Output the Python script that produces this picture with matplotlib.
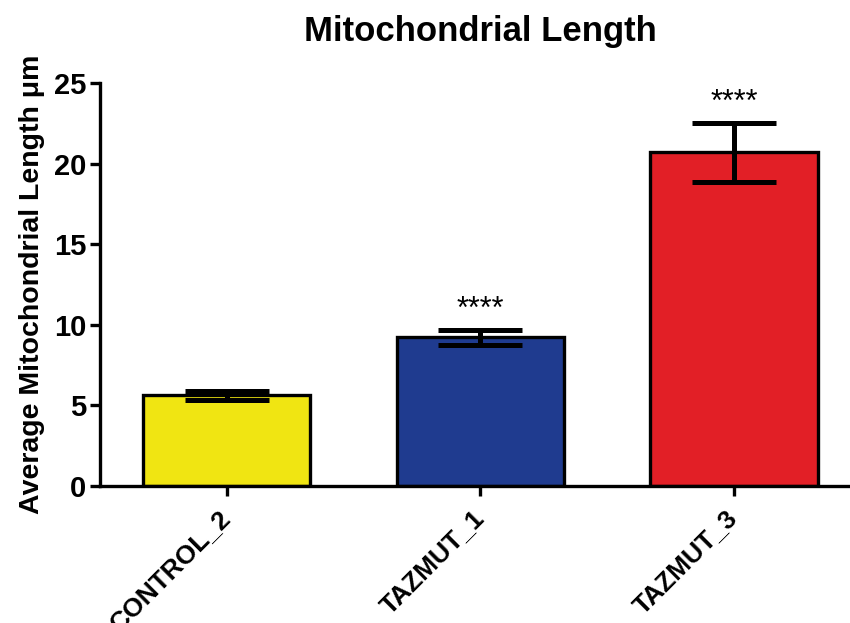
import matplotlib.pyplot as plt

# group means and SEM (um)
groups = ["CONTROL_2", "TAZMUT_1", "TAZMUT_3"]
means = [5.62, 9.22, 20.7]
sems = [0.3, 0.48, 1.83]
colors = ["#F0E512", "#1F3B8F", "#E21F26"]
stars = ["", "****", "****"]

plt.rcParams['font.family'] = ['Liberation Sans', 'DejaVu Sans']

fig = plt.figure(figsize=(8.5, 6.23), dpi=100)
ax = fig.add_axes([0.1176, 0.22, 0.895, 0.6468])

x = range(len(groups))
ax.bar(x, means, width=0.66, color=colors, edgecolor="black", linewidth=2.4, zorder=2)
ax.errorbar(x, means, yerr=sems, fmt="none", ecolor="black", elinewidth=3.6,
            capsize=30, capthick=3.6, zorder=3)

for xi, m, s, lab in zip(x, means, sems, stars):
    if lab:
        ax.text(xi, m + s + 0.3, lab, ha="center", va="bottom", fontsize=22)

ax.set_xlim(-0.5, 2.5)
ax.set_ylim(0, 25)
ax.set_yticks([0, 5, 10, 15, 20, 25])
ax.set_xticks(list(x))
ax.set_xticklabels(groups, rotation=45, ha="right", va="center",
                   rotation_mode="anchor", fontsize=19, fontweight="bold")
for lab in ax.get_yticklabels():
    lab.set_fontsize(21)
    lab.set_fontweight("bold")

for side in ["top", "right"]:
    ax.spines[side].set_visible(False)
for side in ["left", "bottom"]:
    ax.spines[side].set_linewidth(2.4)
ax.tick_params(axis="both", width=2.4, length=7)
ax.tick_params(axis="y", pad=3)
ax.tick_params(axis="x", pad=13)

ax.set_ylabel("Average Mitochondrial Length \u03bcm", fontsize=20.5, fontweight="bold", labelpad=6)
fig.text(0.565, 0.95, "Mitochondrial Length", ha="center", va="center",
         fontsize=25, fontweight="bold")

fig.savefig("out.png", dpi=100)
